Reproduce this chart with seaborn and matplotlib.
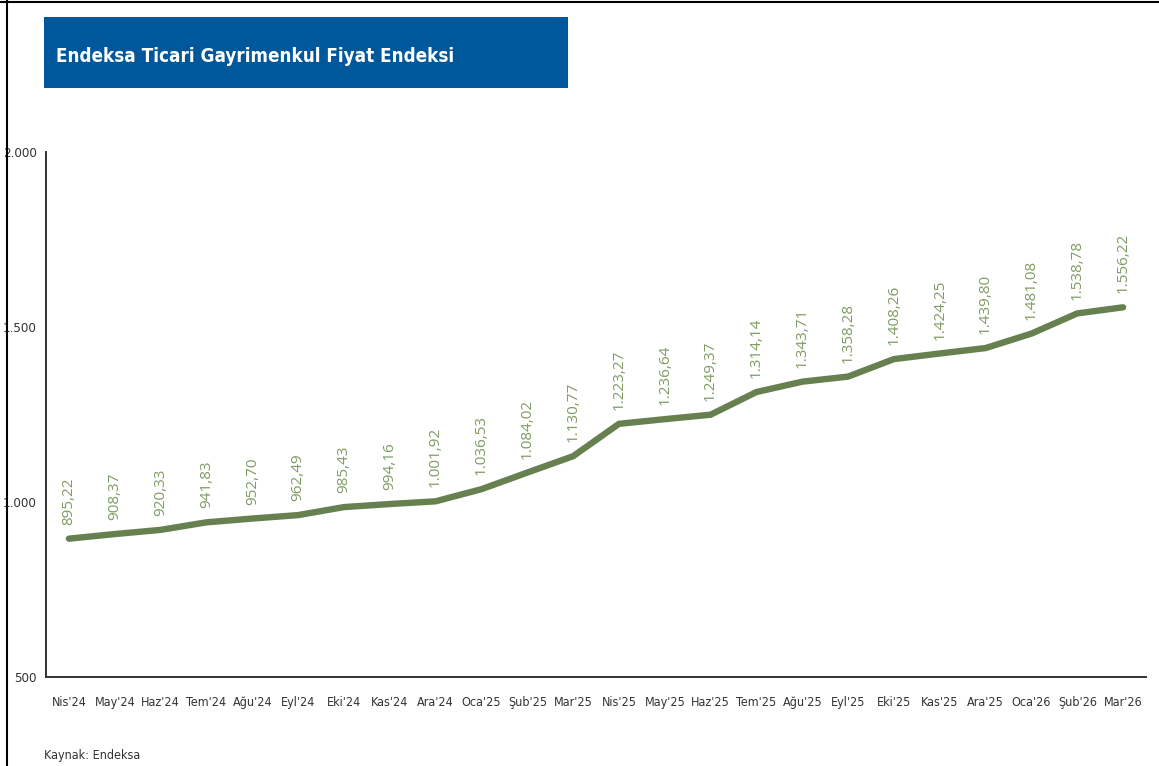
import matplotlib
matplotlib.use('Agg')
import matplotlib.pyplot as plt
import seaborn as sns
import pandas as pd
from matplotlib.lines import Line2D
from matplotlib.patches import Rectangle

# Veriler
months = ["Nis'24", "May'24", "Haz'24", "Tem'24", "Ağu'24", "Eyl'24", "Eki'24", "Kas'24",
          "Ara'24", "Oca'25", "Şub'25", "Mar'25", "Nis'25", "May'25", "Haz'25", "Tem'25",
          "Ağu'25", "Eyl'25", "Eki'25", "Kas'25", "Ara'25", "Oca'26", "Şub'26", "Mar'26"]
values = [895.22, 908.37, 920.33, 941.83, 952.70, 962.49, 985.43, 994.16,
          1001.92, 1036.53, 1084.02, 1130.77, 1223.27, 1236.64, 1249.37, 1314.14,
          1343.71, 1358.28, 1408.26, 1424.25, 1439.80, 1481.08, 1538.78, 1556.22]
y_ticks = [500, 1000, 1500, 2000]
y_tick_labels = ["500", "1.000", "1.500", "2.000"]

df = pd.DataFrame({'ay': range(len(months)), 'deger': values})

sns.set_style('white')
plt.rcParams['font.family'] = ['Open Sans', 'DejaVu Sans']
narrow = dict(family='DejaVu Sans', fontstretch='condensed')

fig = plt.figure(figsize=(11.59, 7.66), dpi=100)
ax = fig.add_axes([0.0397, 0.1162, 0.9491, 0.6854])

line_color = '#66804f'
label_color = '#7f9b62'
text_color = '#333333'

sns.lineplot(data=df, x='ay', y='deger', ax=ax, color=line_color, linewidth=4.6,
             solid_joinstyle='miter')

# Değer etiketleri
def fmt(v):
    s = f"{v:,.2f}"
    return s.replace(',', 'X').replace('.', ',').replace('X', '.')

for i, v in enumerate(values):
    ax.annotate(fmt(v), (i, v), xytext=(0, 10), textcoords='offset points',
                rotation=90, ha='center', va='bottom', fontsize=11, color=label_color)

ax.set_xlim(-0.5, len(months) - 0.5)
ax.set_ylim(500, 2000)
ax.set_yticks(y_ticks)
ax.set_yticklabels(y_tick_labels, fontsize=9.5, color=text_color, **narrow)
ax.set_xticks(range(len(months)))
ax.set_xticklabels(months, fontsize=9, color=text_color, **narrow)
ax.set_xticks([i - 0.5 for i in range(len(months) + 1)], minor=True)
ax.tick_params(axis='x', which='major', length=0, pad=14)
ax.tick_params(axis='x', which='minor', length=6, width=1, direction='in', color='#333333')
ax.tick_params(axis='y', length=5, width=1, direction='inout', color='#333333', pad=4)
ax.set_xlabel('')
ax.set_ylabel('')

for side in ['top', 'right']:
    ax.spines[side].set_visible(False)
for side in ['left', 'bottom']:
    ax.spines[side].set_color('#333333')
    ax.spines[side].set_linewidth(1.4)

# Başlık kutusu
fig.add_artist(Rectangle((44 / 1159, 1 - 88 / 766), 524 / 1159, 71 / 766,
                         transform=fig.transFigure, facecolor='#00589c', edgecolor='none'))
fig.text(56 / 1159, 1 - 56 / 766, 'Endeksa Ticari Gayrimenkul Fiyat Endeksi',
         color='white', fontsize=13.5, fontweight='bold', va='center', ha='left', **narrow)

# Kaynak
fig.text(44 / 1159, 1 - 755 / 766, 'Kaynak: Endeksa', fontsize=9, color=text_color,
         va='center', ha='left', **narrow)

# Çerçeve
fig.add_artist(Line2D([7 / 1159, 7 / 1159], [0, 1], transform=fig.transFigure,
                      color='black', linewidth=1.5))
fig.add_artist(Line2D([0, 1], [1 - 1.5 / 766, 1 - 1.5 / 766], transform=fig.transFigure,
                      color='black', linewidth=1.5))

fig.savefig('out.png', dpi=100)
